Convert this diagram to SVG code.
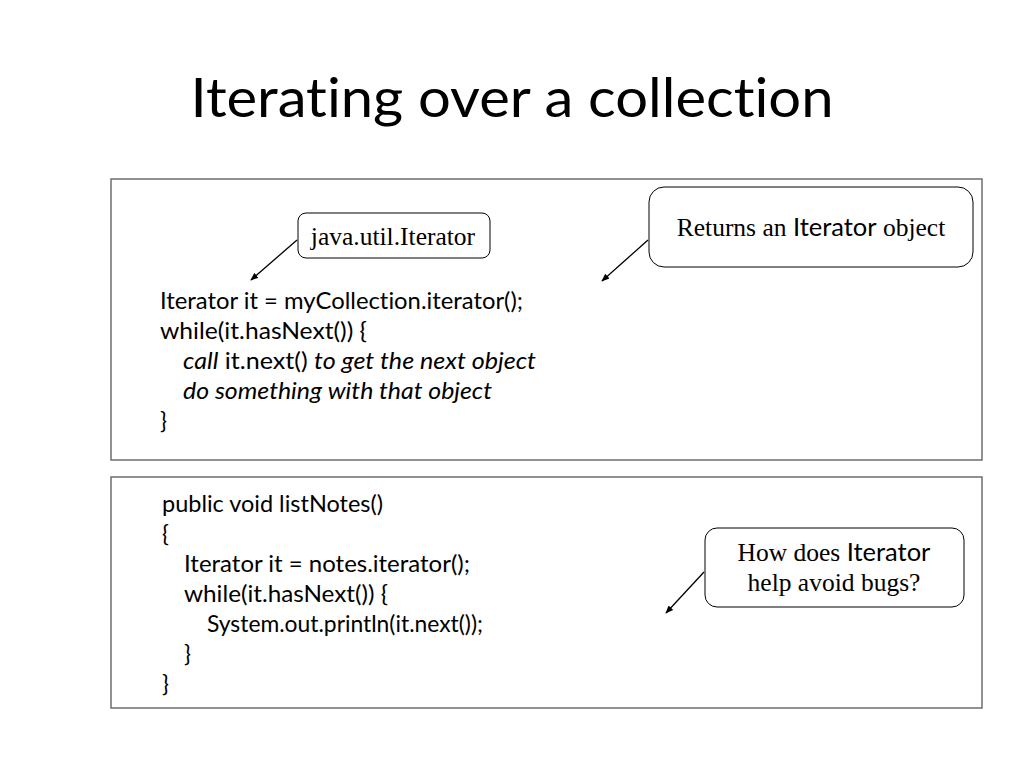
<svg xmlns="http://www.w3.org/2000/svg" width="1024" height="768" viewBox="0 0 1024 768">
<defs>
<marker id="ah" viewBox="0 0 10 10" refX="9" refY="5" markerWidth="8" markerHeight="8" orient="auto" markerUnits="userSpaceOnUse">
<path d="M0,1 L10,5 L0,9 z" fill="#000"/>
</marker>
<style>
text{font-variant-ligatures:none}
.title{font-family:Lato,"Liberation Sans",sans-serif;font-size:55px;fill:#000}
.code{font-family:Lato,"Liberation Sans",sans-serif;font-size:23px;fill:#000}
.it{font-style:italic}
.panel{fill:#fff;stroke:#6e6e6e;stroke-width:1.5}
.callout{fill:#fff;stroke:#000;stroke-width:1}
.serif{font-family:"Liberation Serif",serif;font-size:25.5px;fill:#000}
.sans{font-family:Lato,"Liberation Sans",sans-serif}
.conn{stroke:#000;stroke-width:1.3;fill:none}
</style>
</defs>
<rect width="1024" height="768" fill="#fff"/>
<text class="title" x="512" y="117" text-anchor="middle" textLength="643" lengthAdjust="spacingAndGlyphs">Iterating over a collection</text>

<g id="panel1">
<rect class="panel" x="111" y="179" width="871" height="281"/>
<text class="code" x="160" y="309" textLength="363" lengthAdjust="spacingAndGlyphs">Iterator it = myCollection.iterator();</text>
<text class="code" x="160" y="339" textLength="207" lengthAdjust="spacingAndGlyphs">while(it.hasNext()) {</text>
<text class="code" x="183" y="369" textLength="353" lengthAdjust="spacingAndGlyphs"><tspan class="it">call</tspan> it.next() <tspan class="it">to get the next object</tspan></text>
<text class="code it" x="183" y="399" textLength="309" lengthAdjust="spacingAndGlyphs">do something with that object</text>
<text class="code" x="160" y="429">}</text>
</g>

<g id="panel2">
<rect class="panel" x="111" y="477" width="871" height="231"/>
<text class="code" x="162" y="512" textLength="221" lengthAdjust="spacingAndGlyphs">public void listNotes()</text>
<text class="code" x="162" y="542">{</text>
<text class="code" x="184" y="572" textLength="286" lengthAdjust="spacingAndGlyphs">Iterator it = notes.iterator();</text>
<text class="code" x="184" y="602" textLength="204" lengthAdjust="spacingAndGlyphs">while(it.hasNext()) {</text>
<text class="code" x="207" y="632" textLength="276" lengthAdjust="spacingAndGlyphs">System.out.println(it.next());</text>
<text class="code" x="184" y="662">}</text>
<text class="code" x="162" y="692">}</text>
</g>

<g id="callout-iterator">
<rect class="callout" x="298" y="213" width="192" height="45" rx="8"/>
<text class="serif" x="393" y="245" text-anchor="middle">java.util.Iterator</text>
</g>

<g id="callout-returns">
<rect class="callout" x="649" y="187" width="324" height="80" rx="15"/>
<text class="serif" x="811" y="236" text-anchor="middle">Returns an <tspan class="sans">Iterator</tspan> object</text>
</g>

<g id="callout-bugs">
<rect class="callout" x="705" y="528" width="259" height="79" rx="12"/>
<text class="serif" x="834" y="561" text-anchor="middle">How does <tspan class="sans">Iterator</tspan></text>
<text class="serif" x="834" y="591" text-anchor="middle">help avoid bugs?</text>
</g>

<g id="connectors">
<line class="conn" x1="297" y1="240" x2="251" y2="280" marker-end="url(#ah)"/>
<line class="conn" x1="648" y1="240" x2="602" y2="281" marker-end="url(#ah)"/>
<line class="conn" x1="704" y1="572" x2="666" y2="613" marker-end="url(#ah)"/>
</g>
</svg>
